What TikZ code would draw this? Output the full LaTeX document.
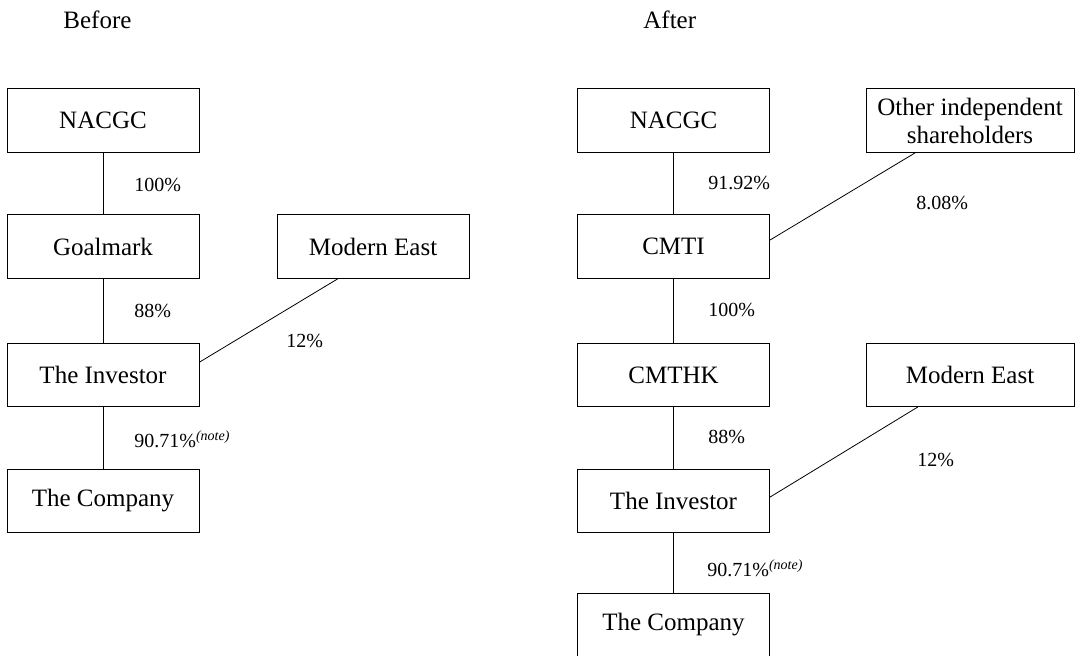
\documentclass[tikz,border=0pt]{standalone}
\usepackage{fontspec}
\setmainfont{Liberation Serif}
\usetikzlibrary{calc}

\begin{document}
\begin{tikzpicture}[x=0.5pt,y=-0.5pt,
  box/.style={draw,rectangle,minimum width=96pt,minimum height=31.6pt,inner sep=0pt,align=center,font=\fontsize{12.5}{13.5}\selectfont},
  pct/.style={anchor=west,inner sep=0pt,font=\fontsize{10}{12}\selectfont}]
  \useasboundingbox (0,0) rectangle (1080,656);

  % Before
  \node[anchor=west,inner sep=0pt,font=\fontsize{12.5}{14}\selectfont] (tBefore) at (63,20) {Before};
  \node[box] (nacB) at (103,120.5) {NACGC};
  \node[box] (goalB) at (103,246.5) {Goalmark};
  \node[box] (meB) at (373,246.5) {Modern East};
  \node[box] (invB) at (103,375) {The Investor};
  \node[box] (coB) at (103,501) {The Company};

  \draw (nacB) -- (goalB);
  \draw (goalB) -- (invB);
  \draw (invB) -- (coB);
  \draw ($(meB.south west)!0.32!(meB.south east)$) -- ($(invB.north east)!0.3!(invB.south east)$);

  \node[pct] (pB1) at (134,185) {100\%};
  \node[pct] (pB2) at (134,311) {88\%};
  \node[pct] (pB3) at (286,341) {12\%};
  \node[pct] (pB4) at (134,439) {90.71\%\textsuperscript{\textit{(note)}}};

  % After
  \node[anchor=west,inner sep=0pt,font=\fontsize{12.5}{14}\selectfont] (tAfter) at (643,20) {After};
  \node[box] (nacA) at (673.5,120.5) {NACGC};
  \node[box,minimum width=104pt] (othA) at (970,120.5) {Other independent\\[0.5pt]shareholders};
  \node[box] (cmtiA) at (673.5,246.5) {CMTI};
  \node[box] (cmthkA) at (673.5,375) {CMTHK};
  \node[box,minimum width=104pt] (meA) at (970,375) {Modern East};
  \node[box] (invA) at (673.5,501) {The Investor};
  \node[box] (coA) at (673.5,625) {The Company};

  \draw (nacA) -- (cmtiA);
  \draw (cmtiA) -- (cmthkA);
  \draw (cmthkA) -- (invA);
  \draw (invA) -- (coA);
  \draw ($(othA.south west)!0.24!(othA.south east)$) -- ($(cmtiA.north east)!0.4!(cmtiA.south east)$);
  \draw ($(meA.south west)!0.25!(meA.south east)$) -- ($(invA.north east)!0.44!(invA.south east)$);

  \node[pct] (pA1) at (708,183) {91.92\%};
  \node[pct] (pA2) at (916,203) {8.08\%};
  \node[pct] (pA3) at (708,310) {100\%};
  \node[pct] (pA4) at (708,437) {88\%};
  \node[pct] (pA5) at (917,460) {12\%};
  \node[pct] (pA6) at (707,568) {90.71\%\textsuperscript{\textit{(note)}}};
\end{tikzpicture}
\end{document}
